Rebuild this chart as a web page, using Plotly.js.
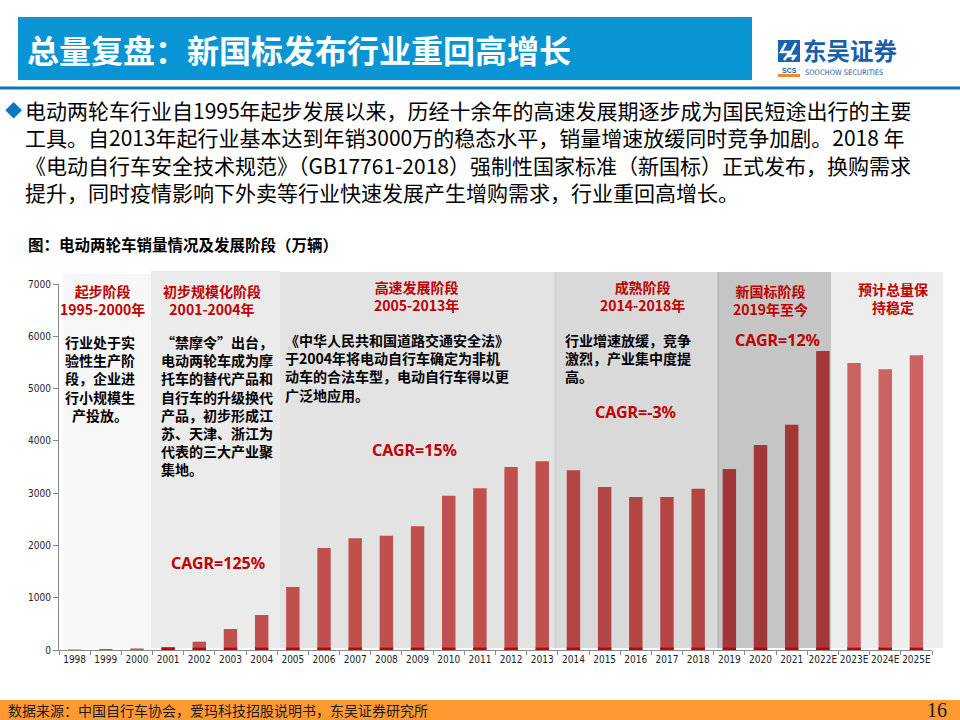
<!DOCTYPE html>
<html><head><meta charset="utf-8">
<script src="https://cdn.plot.ly/plotly-3.0.1.min.js"></script>
<style>html,body{margin:0;padding:0;background:#fff;}#chart{width:960px;height:720px;}</style>
</head><body><div id="chart"></div>
<script>
// ---- data ----
const years = ['1998','1999','2000','2001','2002','2003','2004','2005','2006','2007','2008','2009','2010','2011','2012','2013','2014','2015','2016','2017','2018','2019','2020','2021','2022E','2023E','2024E','2025E'];
const sales = [10,20,29,58,159,402,669,1205,1951,2136,2187,2366,2952,3092,3500,3609,3437,3118,2926,2926,3085,3462,3921,4309,5719,5489,5368,5636];
const baseStrip = [0,0,0,45,45,45,45,45,45,45,45,45,45,45,45,45,45,45,45,45,45,45,45,45,45,45,45,45];
const yTicks = [0,1000,2000,3000,4000,5000,6000,7000];

const headerTitle = '总量复盘：新国标发布行业重回高增长';
const paragraph = [
 '电动两轮车行业自1995年起步发展以来，历经十余年的高速发展期逐步成为国民短途出行的主要',
 '工具。自2013年起行业基本达到年销3000万的稳态水平，销量增速放缓同时竞争加剧。2018 年',
 '《电动自行车安全技术规范》（GB17761-2018）强制性国家标准（新国标）正式发布，换购需求',
 '提升，同时疫情影响下外卖等行业快速发展产生增购需求，行业重回高增长。'
];
const chartTitle = '图：电动两轮车销量情况及发展阶段（万辆）';
const stageTitles = [
 ['起步阶段','1995-2000年'],
 ['初步规模化阶段','2001-2004年'],
 ['高速发展阶段','2005-2013年'],
 ['成熟阶段','2014-2018年'],
 ['新国标阶段','2019年至今'],
 ['预计总量保','持稳定']
];
const stageNotes = [
 ['行业处于实','验性生产阶','段，企业进','行小规模生','产投放。'],
 ['“禁摩令”出台，','电动两轮车成为摩','托车的替代产品和','自行车的升级换代','产品，初步形成江','苏、天津、浙江为','代表的三大产业聚','集地。'],
 ['《中华人民共和国道路交通安全法》','于2004年将电动自行车确定为非机','动车的合法车型，电动自行车得以更','广泛地应用。'],
 ['行业增速放缓，竞争','激烈，产业集中度提','高。']
];
const cagrLabels = ['CAGR=125%','CAGR=15%','CAGR=-3%','CAGR=12%'];
const sourceText = '数据来源：中国自行车协会，爱玛科技招股说明书，东吴证券研究所';
const pageNo = '16';

// ---- layout helpers ----
const PL=59, PR=932, PT=284, PB=650;
const px = x => (x-PL)/(PR-PL);
const py = y => (PB-y)/(PB-PT);
const CJK = '"Noto Sans CJK SC", "Noto Sans", sans-serif';
const NARROW = '"DejaVu Sans Condensed", "Liberation Sans Narrow", Arial, sans-serif';
const RED = '#C00000';
const ann = [];
function txt(text, x, y, size, color, bold, anchor, family, yanchor){
  ann.push({xref:'paper', yref:'paper', x:px(x), y:py(y), text: bold?'<b>'+text+'</b>':text,
    showarrow:false, xanchor:anchor||'left', yanchor:yanchor||'middle', borderpad:0, align:anchor||'left',
    font:{family:family||CJK, size:size, color:color}});
}
const shapes = [];
function rect(x0,y0,x1,y1,color,layer){
  shapes.push({type:'rect', xref:'paper', yref:'paper', x0:px(x0), x1:px(x1), y0:py(y1), y1:py(y0),
    fillcolor:color, line:{width:0}, layer:layer||'below'});
}
function vline(x,y0,y1,color){
  shapes.push({type:'line', xref:'paper', yref:'paper', x0:px(x), x1:px(x), y0:py(y1), y1:py(y0),
    line:{color:color, width:1}, layer:'below'});
}

// stage backgrounds
rect(63,274,151,648,'#F7F7F7');
rect(151,271,280,648,'#EBEBEB');
rect(280,272,555,648,'#E3E3E3');
rect(555,272,718,648,'#D9D9D9');
rect(718,272,831,648,'#C5C5C5');
rect(831,272,943,648,'#EDEDED');
vline(555,272,648,'#C8C8C8');
vline(718,272,648,'#A8A8A8');

// header
rect(18,17,752,80,'#0995D4','above');
rect(0,86.5,960,89.5,'#0B78C0','above');
rect(0,700,960,720,'#FF9A33','above');
// logo icon
rect(778,40,800,62,'#1B63B0','above');
shapes.push({type:'path', xref:'paper', yref:'paper', layer:'above',
  path:`M ${px(786)} ${py(43)} L ${px(781)} ${py(52)} L ${px(790)} ${py(52)} L ${px(784)} ${py(60)}`,
  line:{color:'#ffffff', width:2.5}});
shapes.push({type:'path', xref:'paper', yref:'paper', layer:'above',
  path:`M ${px(796)} ${py(43)} L ${px(789)} ${py(56)} L ${px(795)} ${py(56)} L ${px(792)} ${py(60)}`,
  line:{color:'#ffffff', width:2.5}});
rect(778,74,800,77,'#F08A24','above');

txt(headerTitle, 26, 49, 32, '#ffffff', true);
txt('东吴证券', 802, 50, 23.5, '#1B5FAA', true);
txt('SOOCHOW SECURITIES', 804, 72.5, 7.5, '#1B5FAA', false, 'left', NARROW);
txt('SCS', 789, 70, 7, '#1B5FAA', true, 'center', 'Liberation Sans, Arial, sans-serif');

// paragraph (one block)
txt('◆', 4, 110, 17, '#0A78C0', false);
txt(paragraph.join('<br>'), 24, 150.5, 21, '#000000', false);

// chart title
txt(chartTitle, 27, 244, 15.5, '#000000', true);

// stage titles (two lines each)
const stX = [102,212,416,642,770,893];
const stY = [300,300,296,296,300,298];
stageTitles.forEach((t,i)=> txt(t[0]+'<br>'+t[1], stX[i], stY[i], 14, RED, true, 'center'));

// stage notes
const noteX = [100,160,284,564];
const noteAnchor = ['center','left','left','left'];
const noteTop = [331,331,329,329];
stageNotes.forEach((lines,k)=> txt(lines.join('<br>'), noteX[k], noteTop[k], 14, '#000000', true, noteAnchor[k], CJK, 'top'));

// CAGR
const cgX = [218,414,635,777], cgY = [563,450,412,340];
cagrLabels.forEach((c,i)=>txt(c, cgX[i], cgY[i], 16, RED, true, 'center', '"Noto Sans", "Open Sans", sans-serif'));

// footer
txt(sourceText, 7, 710, 14, '#1a1a1a', false);
txt(pageNo, 948, 710, 20, '#1a1a1a', false, 'right', '"Liberation Serif", "DejaVu Serif", serif');

// bar colors by stage
const barColors = years.map((y,i)=> i<16 ? '#C0504D' : (i<21 ? '#B34645' : (i<25 ? '#A2373A' : '#CB6160')));

const traces = [
 {type:'bar', x:years, y:sales, marker:{color:barColors}, width:0.43, hoverinfo:'skip'},
 {type:'bar', x:years, y:baseStrip, marker:{color:'#C00000'}, width:0.43, hoverinfo:'skip'}
];

const layout = {
 width:960, height:720,
 margin:{l:PL, r:960-PR, t:PT, b:720-PB, pad:0},
 paper_bgcolor:'#ffffff', plot_bgcolor:'rgba(0,0,0,0)',
 showlegend:false, barmode:'overlay',
 font:{family:CJK},
 xaxis:{type:'category', range:[-0.5,27.5], showline:true, linecolor:'#8A8A8A', linewidth:1,
   ticks:'outside', ticklen:4, tickcolor:'#8A8A8A', tickson:'boundaries', tickangle:0,
   tickfont:{family:NARROW, size:10, color:'#222'}, showgrid:false, zeroline:false, fixedrange:true},
 yaxis:{range:[0,7000], tickvals:yTicks, ticktext:yTicks.map(String), showline:true, linecolor:'#8A8A8A', linewidth:1,
   ticks:'outside', ticklen:5, tickcolor:'#8A8A8A', showgrid:false, zeroline:false,
   tickfont:{family:NARROW, size:10, color:'#222'}, fixedrange:true},
 shapes:shapes,
 annotations:ann
};
Plotly.newPlot('chart', traces, layout, {staticPlot:true, displayModeBar:false});
</script>
</body></html>
